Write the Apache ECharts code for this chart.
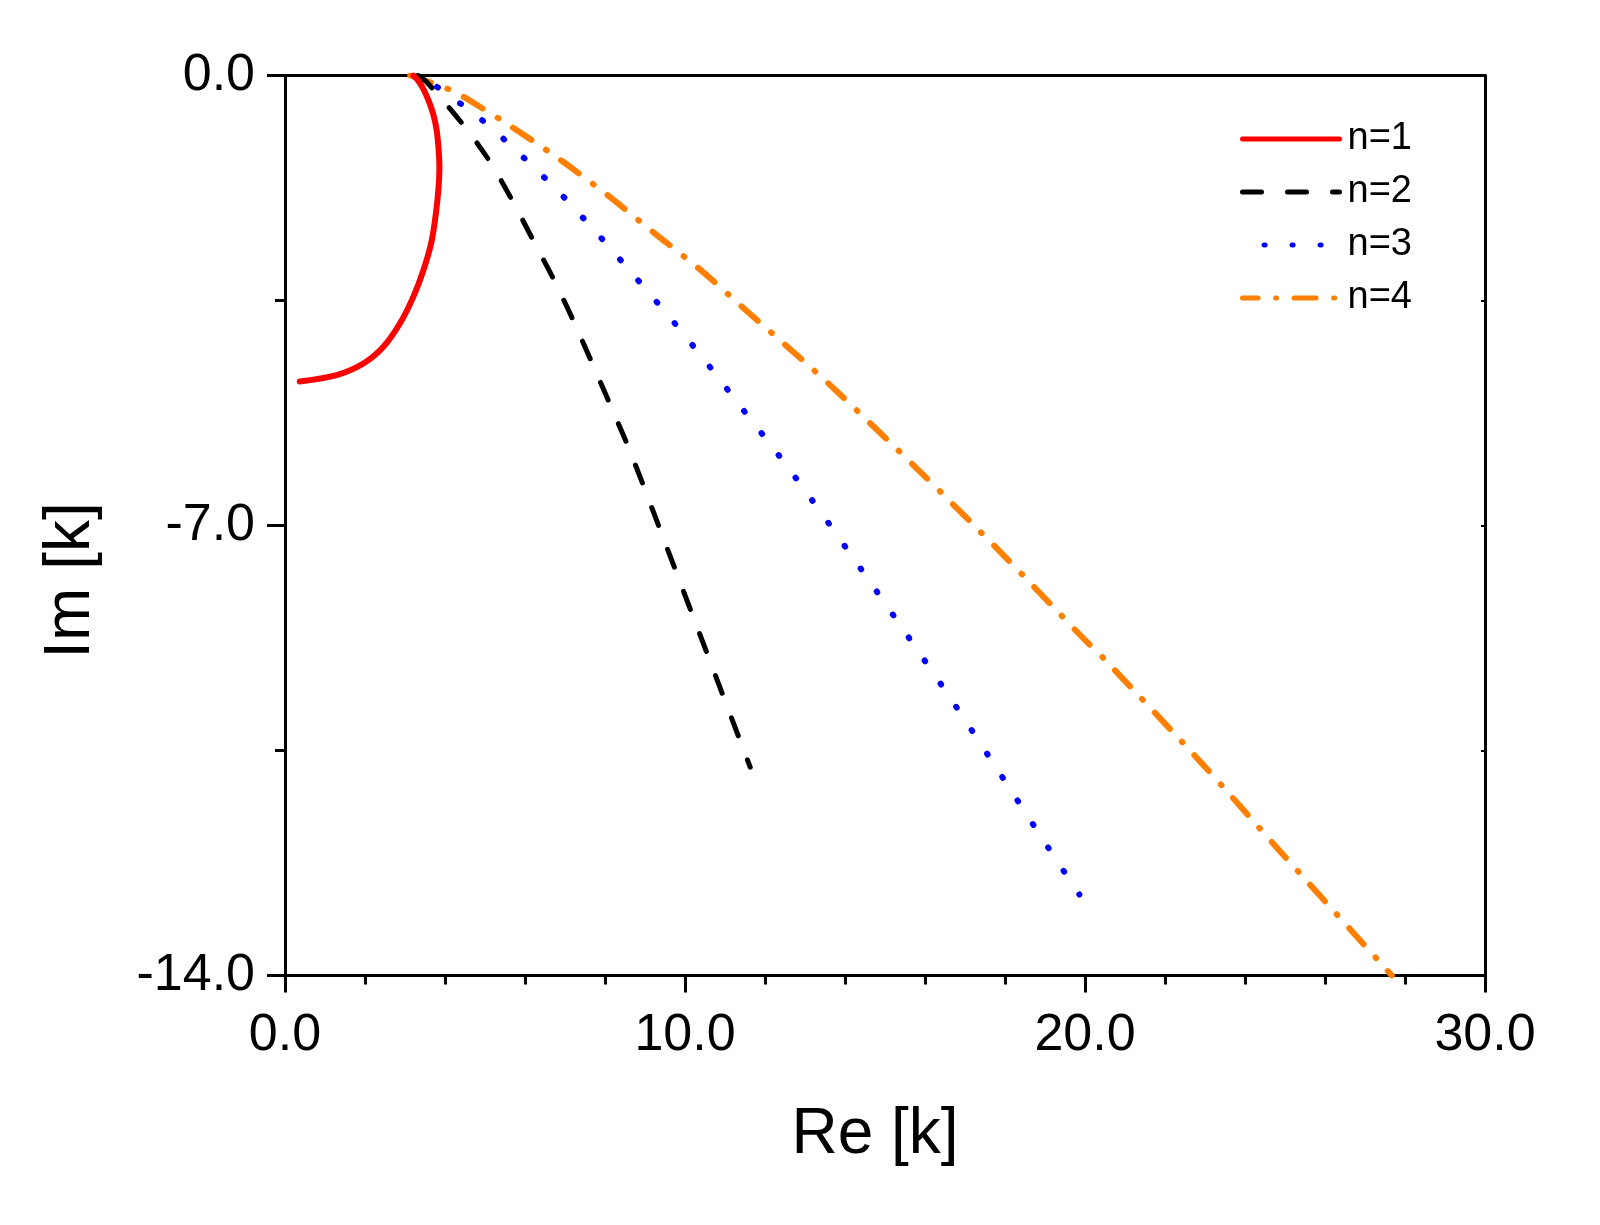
<!DOCTYPE html>
<html>
<head>
<meta charset="utf-8">
<script src="https://cdn.jsdelivr.net/npm/echarts@6/dist/echarts.min.js"></script>
<style>
  html, body { margin: 0; padding: 0; background: #fff; }
  #chart { width: 1600px; height: 1225px; }
</style>
</head>
<body>
<div id="chart"></div>
<script>
var re1 = [3.21, 3.32, 3.475, 3.65, 3.76, 3.82, 3.86, 3.81, 3.67, 3.46, 3.21, 2.88, 2.46, 1.96, 1.29, 0.37];
var im1 = [0, -0.07, -0.23, -0.49, -0.74, -1.0, -1.42, -1.94, -2.56, -3.03, -3.44, -3.85, -4.22, -4.48, -4.66, -4.76];

var re2 = [3.32, 3.54, 4.42, 5.08, 5.67, 6.21, 6.75, 7.25, 7.71, 8.17, 8.63, 9.46, 10.71, 11.63];
var im2 = [0, -0.10, -0.74, -1.30, -1.93, -2.57, -3.21, -3.87, -4.52, -5.18, -5.85, -7.20, -9.25, -10.76];

var re3 = [3.35, 3.67, 4.88, 5.92, 6.92, 7.88, 8.79, 9.71, 10.58, 11.44, 12.31, 13.17, 14.38, 15.58, 16.78, 17.93, 19.08, 19.86];
var im3 = [0, -0.12, -0.67, -1.25, -1.86, -2.51, -3.16, -3.83, -4.50, -5.19, -5.88, -6.60, -7.66, -8.73, -9.82, -10.91, -12.01, -12.74];

var re4 = [3.13, 4.04, 4.38, 5.67, 6.88, 8.08, 9.21, 10.38, 11.5, 12.58, 13.67, 15.79, 17.88, 19.92, 20.5, 22.92, 24.88, 26.83, 27.67];
var im4 = [0, -0.20, -0.30, -0.80, -1.31, -1.87, -2.44, -3.02, -3.64, -4.23, -4.84, -6.11, -7.41, -8.73, -9.09, -10.70, -12.07, -13.42, -14.0];

var names = ['n=1', 'n=2', 'n=3', 'n=4'];

function pairs(xs, ys) {
    var out = [];
    for (var i = 0; i < xs.length; i++) out.push([xs[i], ys[i]]);
    return out;
}

var font = 'Liberation Sans, Arial, Helvetica, sans-serif';

var myChart = echarts.init(document.getElementById('chart'));
var option = {
    animation: false,
    backgroundColor: '#fff',
    textStyle: { fontFamily: font, color: '#000' },
    grid: { left: 285, right: 115, top: 75.5, bottom: 249.5 },
    legend: {
        data: names,
        orient: 'vertical',
        left: 1235,
        top: 115,
        itemWidth: 97,
        itemHeight: 14,
        itemGap: 15,
        itemStyle: { opacity: 0 },
        lineStyle: { width: 5 },
        textStyle: { fontSize: 38, fontFamily: font, color: '#000', padding: [0, 0, 0, 3] }
    },
    xAxis: [
        {
            type: 'value',
            min: 0,
            max: 30,
            interval: 10,
            name: 'Re [k]',
            nameLocation: 'middle',
            nameGap: 128,
            nameTextStyle: { fontSize: 64, fontFamily: font, color: '#000', padding: [0, 20, 0, 0] },
            axisLine: { onZero: false, lineStyle: { color: '#000', width: 3 } },
            axisTick: { inside: false, length: 17, lineStyle: { color: '#000', width: 3 } },
            minorTick: { show: true, splitNumber: 5, length: 9, lineStyle: { color: '#000', width: 3 } },
            axisLabel: { fontSize: 52, fontFamily: font, color: '#000', margin: 34,
                formatter: function (v) { return v.toFixed(1); } },
            splitLine: { show: false }
        },
        {
            type: 'value',
            position: 'top',
            min: 0,
            max: 30,
            interval: 10,
            axisLine: { onZero: false, lineStyle: { color: '#000', width: 3 } },
            axisTick: { show: false },
            axisLabel: { show: false },
            splitLine: { show: false }
        }
    ],
    yAxis: [
        {
            type: 'value',
            min: -14,
            max: 0,
            interval: 7,
            name: 'Im [k]',
            nameLocation: 'middle',
            nameGap: 182,
            nameTextStyle: { fontSize: 64, fontFamily: font, color: '#000', padding: [0, 110, 0, 0] },
            axisLine: { onZero: false, lineStyle: { color: '#000', width: 3 } },
            axisTick: { inside: false, length: 18, lineStyle: { color: '#000', width: 3 } },
            minorTick: { show: true, splitNumber: 2, length: 10, lineStyle: { color: '#000', width: 3 } },
            axisLabel: { fontSize: 52, fontFamily: font, color: '#000', margin: 30,
                formatter: function (v) { return v.toFixed(1); } },
            splitLine: { show: false }
        },
        {
            type: 'value',
            position: 'right',
            min: -14,
            max: 0,
            interval: 3.5,
            axisLine: { onZero: false, lineStyle: { color: '#000', width: 3 } },
            axisTick: { inside: true, length: 4, lineStyle: { color: '#000', width: 2 } },
            axisLabel: { show: false },
            splitLine: { show: false }
        }
    ],
    series: [
        {
            name: names[0],
            type: 'line',
            symbol: 'none',
            smooth: 0.3,
            data: pairs(re1, im1),
            itemStyle: { color: '#ff0000' },
            lineStyle: { color: '#ff0000', width: 6, cap: 'round' },
            z: 4
        },
        {
            name: names[1],
            type: 'line',
            symbol: 'none',
            smooth: 0.3,
            data: pairs(re2, im2),
            itemStyle: { color: '#000000' },
            lineStyle: { color: '#000000', width: 5, type: [19, 26], cap: 'round' },
            z: 3
        },
        {
            name: names[2],
            type: 'line',
            symbol: 'none',
            smooth: 0.3,
            data: pairs(re3, im3),
            itemStyle: { color: '#0000ff' },
            lineStyle: { color: '#0000ff', width: 6, type: [1, 27], dashOffset: 6.4, cap: 'round' },
            z: 3
        },
        {
            name: names[3],
            type: 'line',
            symbol: 'none',
            smooth: 0.3,
            data: pairs(re4, im4),
            itemStyle: { color: '#ff8000' },
            lineStyle: { color: '#ff8000', width: 6, type: [22, 17.5, 1, 17.5], cap: 'round' },
            z: 2
        }
    ]
};
myChart.setOption(option);
</script>
</body>
</html>
